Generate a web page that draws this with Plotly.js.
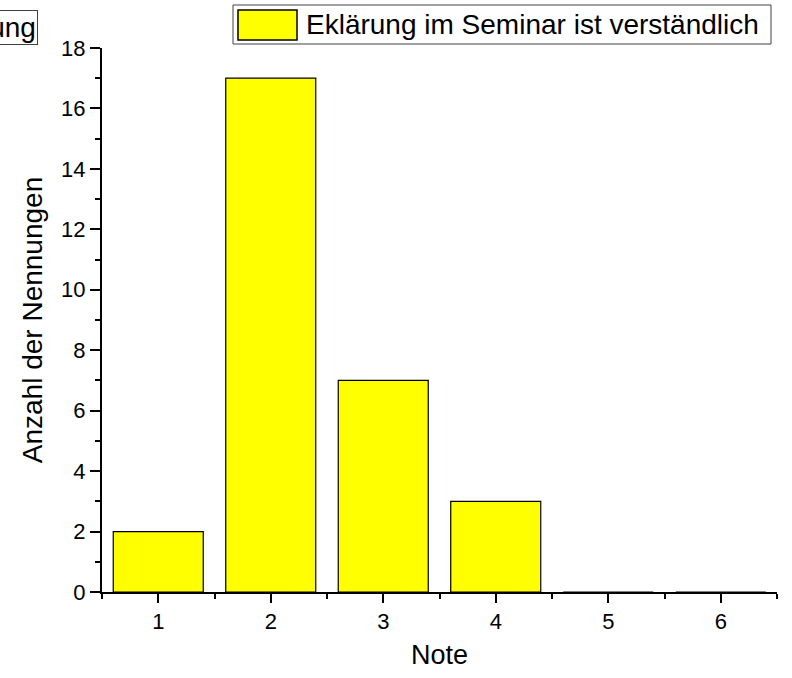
<!DOCTYPE html>
<html>
<head>
<meta charset="utf-8">
<script src="https://cdn.plot.ly/plotly-3.0.1.min.js"></script>
<style>html,body{margin:0;padding:0;background:#fff;}#chart{width:792px;height:678px;}</style>
</head>
<body>
<div id="chart"></div>
<script>
const notes = [1, 2, 3, 4, 5, 6];
const counts = [2, 17, 7, 3, 0, 0];
const seriesName = "Eklärung im Seminar ist verständlich";
const clippedTitle = "Bewertung";
const yTitle = "Anzahl der Nennungen";
const xTitle = "Note";

const W = 792, H = 678;
const M = {l: 102, r: 15, t: 48, b: 86};
const pw = W - M.l - M.r, ph = H - M.t - M.b;
const px = v => (v - M.l) / pw;
const py = v => (H - M.b - v) / ph;

const font = "Liberation Sans, Arial, sans-serif";

const trace = {
  type: "bar",
  x: notes,
  y: counts,
  name: seriesName,
  width: 0.8,
  marker: {color: "#ffff00", line: {color: "#000000", width: 1.2}},
  showlegend: false,
  hoverinfo: "x+y"
};

const layout = {
  width: W, height: H,
  margin: M,
  paper_bgcolor: "#ffffff",
  plot_bgcolor: "#ffffff",
  font: {family: font, color: "#000"},
  xaxis: {
    range: [0.5, 6.5],
    tickvals: notes,
    ticktext: notes.map(String),
    ticks: "outside", ticklen: 9, tickwidth: 2, tickcolor: "#000",
    minor: {dtick: 0.5, tick0: 0.5, ticks: "outside", ticklen: 5, tickwidth: 2, tickcolor: "#000"},
    showline: true, linecolor: "#000", linewidth: 2,
    showgrid: false, zeroline: false,
    tickfont: {size: 22, family: font},
    title: {text: xTitle, font: {size: 27, family: font}, standoff: 12},
    fixedrange: true
  },
  yaxis: {
    range: [0, 18],
    dtick: 2, tick0: 0,
    ticks: "outside", ticklen: 10, tickwidth: 2, tickcolor: "#000",
    minor: {dtick: 1, tick0: 0, ticks: "outside", ticklen: 5, tickwidth: 2, tickcolor: "#000"},
    showline: true, linecolor: "#000", linewidth: 2,
    showgrid: false, zeroline: false,
    tickfont: {size: 22, family: font},
    title: {text: yTitle, font: {size: 28, family: font}, standoff: 10},
    fixedrange: true
  },
  shapes: [
    {type: "rect", xref: "paper", yref: "paper", x0: px(233), x1: px(771), y0: py(44), y1: py(5),
     line: {color: "#404040", width: 1}, fillcolor: "#ffffff", layer: "above"},
    {type: "rect", xref: "paper", yref: "paper", x0: px(238), x1: px(297), y0: py(40), y1: py(10),
     line: {color: "#000000", width: 1.5}, fillcolor: "#ffff00", layer: "above"}
  ],
  annotations: [
    {xref: "paper", yref: "paper", x: px(304), y: py(24.5), xanchor: "left", yanchor: "middle",
     text: seriesName, showarrow: false, font: {size: 28, family: font, color: "#000"}},
    {xref: "paper", yref: "paper", x: px(38), y: py(28), xanchor: "right", yanchor: "middle",
     text: clippedTitle, showarrow: false, font: {size: 28, family: font, color: "#000"},
     bordercolor: "#404040", borderwidth: 1, borderpad: 1, bgcolor: "#ffffff"}
  ]
};

Plotly.newPlot("chart", [trace], layout, {displayModeBar: false, staticPlot: true});
</script>
</body>
</html>
